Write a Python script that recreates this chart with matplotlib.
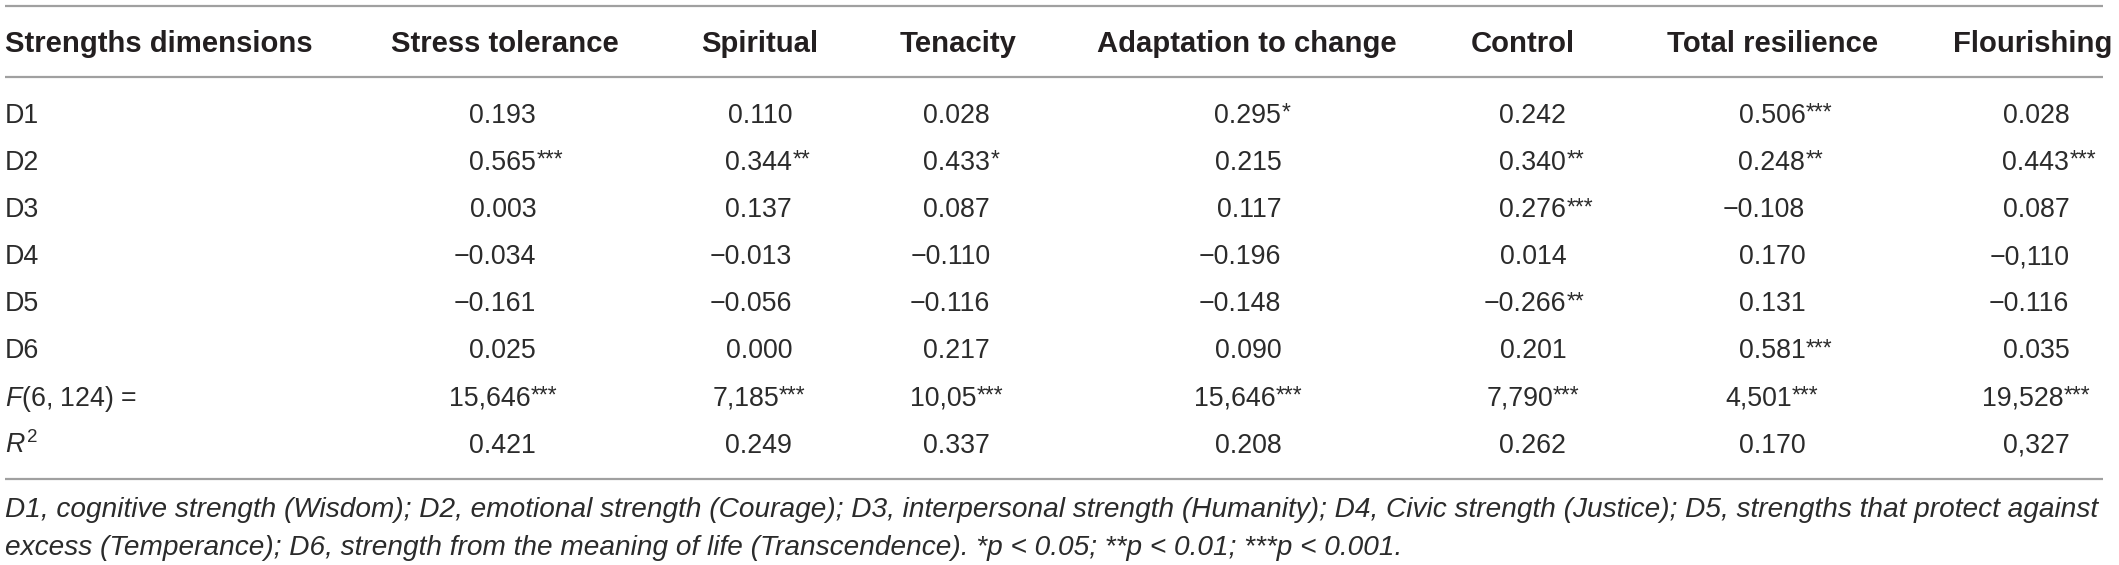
import matplotlib
matplotlib.use("Agg")
import matplotlib.pyplot as plt

plt.rcParams['mathtext.fontset'] = 'custom'
plt.rcParams['mathtext.rm'] = 'Liberation Sans'
plt.rcParams['mathtext.it'] = 'Liberation Sans:italic'

# table contents
columns = ["Stress tolerance", "Spiritual", "Tenacity", "Adaptation to change",
           "Control", "Total resilience", "Flourishing"]
row_labels = ["D1", "D2", "D3", "D4", "D5", "D6", r"$\mathit{F}$(6, 124) =", r"$\mathit{R}^2$"]

d1 = ["0.193", "0.110", "0.028", "0.295*", "0.242", "0.506***", "0.028"]
d2 = ["0.565***", "0.344**", "0.433*", "0.215", "0.340**", "0.248**", "0.443***"]
d3 = ["0.003", "0.137", "0.087", "0.117", "0.276***", "\u22120.108", "0.087"]
d4 = ["\u22120.034", "\u22120.013", "\u22120.110", "\u22120.196", "0.014", "0.170", "\u22120,110"]
d5 = ["\u22120.161", "\u22120.056", "\u22120.116", "\u22120.148", "\u22120.266**", "0.131", "\u22120.116"]
d6 = ["0.025", "0.000", "0.217", "0.090", "0.201", "0.581***", "0.035"]
f_vals = ["15,646***", "7,185***", "10,05***", "15,646***", "7,790***", "4,501***", "19,528***"]
r2_vals = ["0.421", "0.249", "0.337", "0.208", "0.262", "0.170", "0,327"]
rows = [d1, d2, d3, d4, d5, d6, f_vals, r2_vals]

footnote = ["D1, cognitive strength (Wisdom); D2, emotional strength (Courage); D3, interpersonal strength "
            "(Humanity); D4, Civic strength (Justice); D5, strengths that protect against",
            "excess (Temperance); D6, strength from the meaning of life (Transcendence). "
            "*p < 0.05; **p < 0.01; ***p < 0.001."]

W, H = 2119, 565
fig = plt.figure(figsize=(W / 100, H / 100), dpi=100)
ax = fig.add_axes([0, 0, 1, 1])
ax.set_xlim(0, W)
ax.set_ylim(H, 0)
ax.axis('off')
renderer = fig.canvas.get_renderer()

ink = '#231f20'
body_ink = '#2b2b2b'
rule = '#a0a0a0'
fam = 'Liberation Sans'

def width(t):
    return t.get_window_extent(renderer).width

head_x = [505, 760, 958, 1247, 1523, 1773, 2033]
val_x = [503, 759, 957, 1248, 1533, 1772, 2036]
left = 5

# horizontal rules
for y in [5.5, 77, 479]:
    ax.hlines(y, left, 2103, color=rule, lw=1.6)

# header, sized so "Adaptation to change" is as wide as in the original
hsize = 21
t = ax.text(0, 0, "Adaptation to change", fontsize=hsize, fontweight='bold', family=fam)
hsize = hsize * 299 / width(t)
t.remove()
ax.text(left, 52, "Strengths dimensions", fontsize=hsize, fontweight='bold', family=fam,
        color=ink, va='baseline', ha='left')
for x, name in zip(head_x, columns):
    ax.text(x, 52, name, fontsize=hsize, fontweight='bold', family=fam,
            color=ink, va='baseline', ha='center')

# body
bsize = 19.3
ssize = 16.5
cap = 19.5
t = ax.text(0, 0, "0.000", fontsize=bsize, family=fam)
w0 = width(t)
t.remove()

for i, (label, vals) in enumerate(zip(row_labels, rows)):
    yc = 113 + 47.15 * i
    base = yc + cap / 2
    ax.text(left, base, label, fontsize=bsize, family=fam, color=body_ink, va='baseline', ha='left')
    for x, v in zip(val_x, vals):
        num = v.rstrip('*')
        stars = v[len(num):]
        if label.startswith(r"$\mathit{F}"):
            # F row is centred as a whole, stars included
            tn = ax.text(0, base, num, fontsize=bsize, family=fam, color=body_ink, va='baseline', ha='left')
            ts = ax.text(0, yc - cap / 2 - 1.5, stars, fontsize=ssize, family=fam, color=body_ink,
                         va='top', ha='left')
            wn, ws = width(tn), width(ts)
            x0 = x - (wn + ws) / 2
            tn.set_x(x0)
            ts.set_x(x0 + wn)
        else:
            tn = ax.text(x + w0 / 2, base, num, fontsize=bsize, family=fam, color=body_ink,
                         va='baseline', ha='right')
            if stars:
                ax.text(x + w0 / 2, yc - cap / 2 - 1.5, stars, fontsize=ssize, family=fam,
                        color=body_ink, va='top', ha='left')

# footnote, fitted to the original line width
fsize = 19
t = ax.text(0, 0, footnote[0], fontsize=fsize, family=fam, style='italic')
fsize = fsize * 2094 / width(t)
t.remove()
for j, line in enumerate(footnote):
    ax.text(left, 517 + 38 * j, line, fontsize=fsize, family=fam, style='italic',
            color=body_ink, va='baseline', ha='left')

fig.savefig("out.png", dpi=100)
